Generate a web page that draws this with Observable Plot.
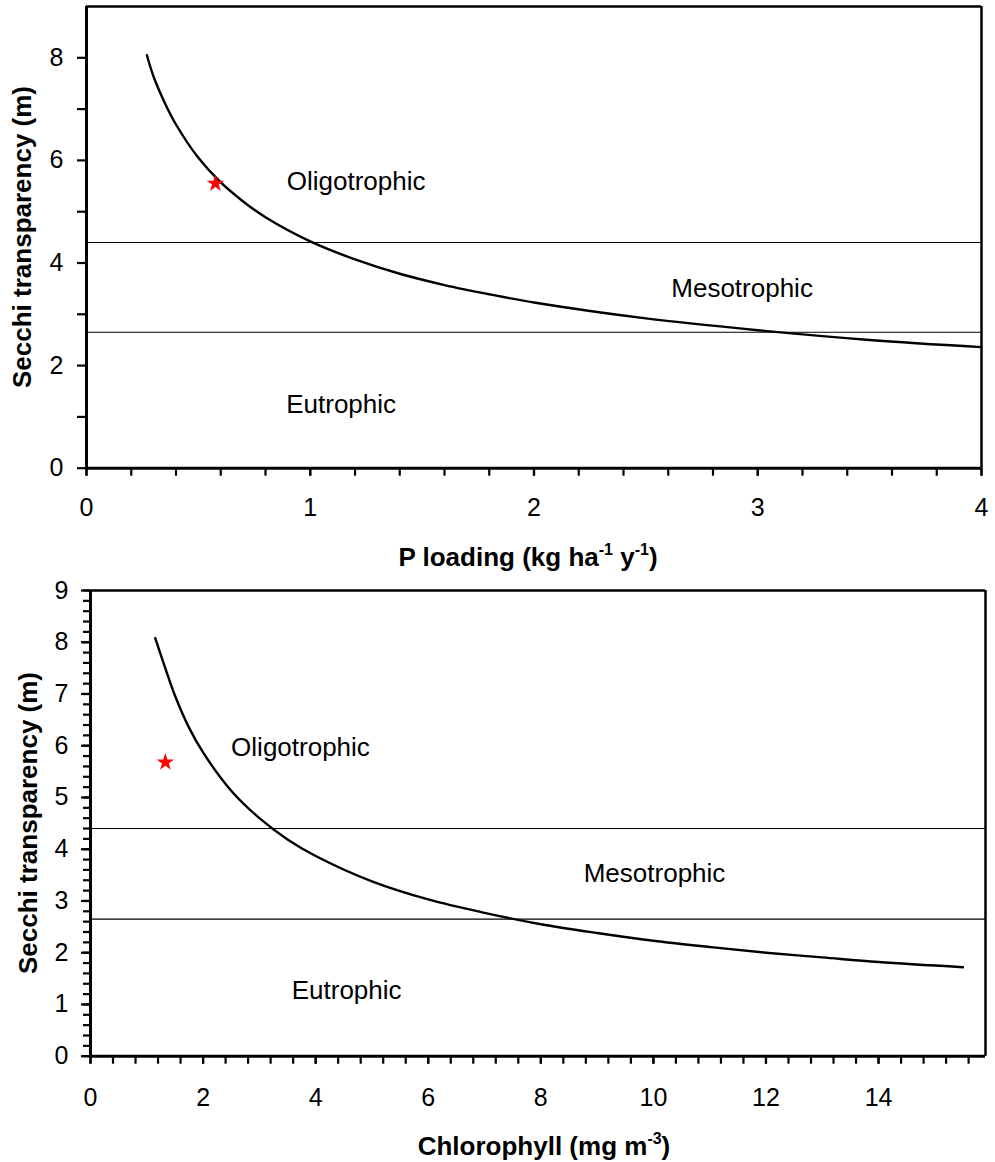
<!DOCTYPE html>
<html><head><meta charset="utf-8">
<script src="https://cdn.jsdelivr.net/npm/d3@7"></script>
<script src="https://cdn.jsdelivr.net/npm/@observablehq/plot@0.6"></script>
<style>
body{margin:0;background:#fff;font-family:"Liberation Sans",Arial,sans-serif;}
#c svg{display:block}
</style></head><body><div id="c"></div>
<script>
// ---- Data: top panel (P loading) ----
const pLoading = [0.27,0.30,0.35,0.40,0.50,0.60,0.70,0.80,1.00,1.20,1.40,1.60,1.80,2.00,2.50,3.00,3.50,4.00];
const secchiP  = [8.05,7.63,7.12,6.70,6.05,5.57,5.20,4.89,4.42,4.07,3.79,3.57,3.39,3.23,2.92,2.69,2.50,2.36];
const starP = [0.576, 5.55];
// ---- Data: bottom panel (Chlorophyll) ----
const chl       = [1.15,1.30,1.50,1.75,2.00,2.50,3.00,3.50,4.00,5.00,6.00,7.00,8.00,9.00,10.0,11.0,12.0,13.0,14.0,15.5];
const secchiChl = [8.08,7.59,6.97,6.35,5.87,5.13,4.60,4.19,3.87,3.38,3.03,2.77,2.55,2.38,2.23,2.11,2.00,1.91,1.82,1.72];
const starC = [1.33, 5.68];
// ---- Trophic boundaries and zone labels ----
const boundaries = [4.4, 2.65];
const zones = ["Oligotrophic", "Mesotrophic", "Eutrophic"];
const zonePx = [1.205, 2.93, 1.138];
const zonePy = [5.58, 3.49, 1.24];
const zoneCx = [3.73, 10.02, 4.55];
const zoneCy = [5.97, 3.52, 1.27];
// ---- Tick labels ----
const pTicks = [0, 1, 2, 3, 4];
const pYTicks = [0, 2, 4, 6, 8];
const pYMinor = [1, 3, 5, 7];
const cTicks = [0, 2, 4, 6, 8, 10, 12, 14];
const cYTicks = [0, 1, 2, 3, 4, 5, 6, 7, 8, 9];

const FONT = '"Liberation Sans", Arial, sans-serif';
const fmt = d => String(d);

function panel(o) {
  const line = o.xs.map((x, i) => ({x, y: o.ys[i]}));
  const zd = zones.map((t, i) => ({t, x: o.zx[i], y: o.zy[i]}));
  return Plot.plot({
    width: 995, height: o.height,
    marginTop: o.mt, marginBottom: o.mb, marginLeft: o.ml, marginRight: o.mr,
    style: {fontFamily: FONT, fontSize: "25px", color: "black", background: "white", overflow: "visible"},
    x: {domain: o.xDomain, label: null},
    y: {domain: [0, 9], label: null},
    marks: [
      Plot.ruleY(boundaries, {stroke: "black", strokeWidth: 1.2}),
      Plot.line(line, {x: "x", y: "y", stroke: "black", strokeWidth: 2.4, curve: "catmull-rom"}),
      Plot.dot([o.star], {x: d => d[0], y: d => d[1], symbol: "star", fill: "red", r: 5.5}),
      Plot.text(zd, {x: "x", y: "y", text: "t", fontSize: 26, fill: "black"}),
      Plot.axisX(o.xMinor, {tickSize: 8, tickFormat: () => "", stroke: "black", strokeWidth: 2.2, label: null}),
      Plot.axisX(o.xMajor, {tickSize: 8, tickPadding: o.xPad, tickFormat: fmt, fontSize: 25, stroke: "black", strokeWidth: 2.2, label: null}),
      Plot.axisY(o.yMinor, {tickSize: o.yMinorSize, tickFormat: () => "", stroke: "black", strokeWidth: 2.2, label: null}),
      Plot.axisY(o.yMajor, {tickSize: 9, tickPadding: o.yPad, tickFormat: fmt, fontSize: 25, stroke: "black", strokeWidth: 2.2, label: null}),
      Plot.ruleY([9], {stroke: "black", strokeWidth: 2.5}),
      Plot.ruleX([o.xDomain[1]], {stroke: "black", strokeWidth: 2.5}),
      Plot.ruleX([o.xDomain[0]], {stroke: "black", strokeWidth: 3}),
      Plot.ruleY([0], {stroke: "black", strokeWidth: 3})
    ]
  });
}

function addTitles(svg, xParts, xc, xBase, yc, yBase) {
  const s = d3.select(svg);
  const t = s.append("text")
    .attr("x", xc).attr("y", xBase)
    .attr("text-anchor", "middle")
    .attr("font-family", FONT).attr("font-weight", "bold").attr("font-size", 26)
    .attr("fill", "black");
  xParts.forEach(p => {
    const ts = t.append("tspan").text(p.t);
    if (p.sup) ts.attr("font-size", 16).attr("dy", -11);
    else if (p.after) ts.attr("dy", 11);
  });
  s.append("text")
    .attr("transform", `translate(${yBase},${yc}) rotate(-90)`)
    .attr("text-anchor", "middle")
    .attr("font-family", FONT).attr("font-weight", "bold").attr("font-size", 26)
    .attr("fill", "black")
    .text("Secchi transparency (m)");
}

const topPlot = panel({
  xs: pLoading, ys: secchiP, star: starP, zx: zonePx, zy: zonePy,
  xDomain: [0, 4], xMajor: pTicks, xMinor: d3.range(0, 4.001, 0.2),
  yMajor: pYTicks, yMinor: pYMinor, yMinorSize: 9,
  height: 580, mt: 6, mb: 112.3, ml: 86, mr: 14, xPad: 22, yPad: 14
});
addTitles(topPlot, [
  {t: "P loading (kg ha"}, {t: "-1", sup: true}, {t: " y", after: true},
  {t: "-1", sup: true}, {t: ")", after: true}
], 528, 566, 237, 31);

const bottomPlot = panel({
  xs: chl, ys: secchiChl, star: starC, zx: zoneCx, zy: zoneCy,
  xDomain: [0, 15.9], xMajor: cTicks, xMinor: d3.range(0, 15.9, 0.4),
  yMajor: cYTicks, yMinor: d3.range(0, 9.001, 0.2), yMinorSize: 7,
  height: 582, mt: 10, mb: 106.3, ml: 90, mr: 10, xPad: 24, yPad: 13
});
addTitles(bottomPlot, [
  {t: "Chlorophyll (mg m"}, {t: "-3", sup: true}, {t: ")", after: true}
], 544, 575, 243, 37);

document.getElementById("c").append(topPlot, bottomPlot);
</script>
</body></html>
